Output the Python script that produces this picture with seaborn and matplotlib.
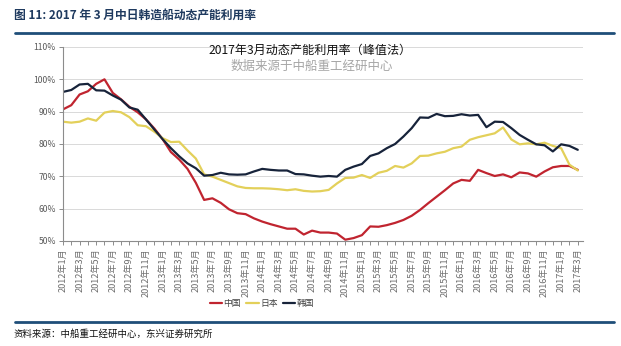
import matplotlib
matplotlib.use("Agg")
import matplotlib.pyplot as plt
import seaborn as sns
import pandas as pd
import numpy as np
from matplotlib.lines import Line2D

sns.set_theme(style="white")
plt.rcParams['font.family'] = ['Noto Sans CJK SC', 'DejaVu Sans']
plt.rcParams['axes.unicode_minus'] = False

# ---- data ----
months = [f"{y}年{m}月" for y in range(2012, 2018) for m in range(1, 13)][:63]

china = [90.7, 92.0, 95.3, 96.3, 98.6, 100.0, 95.8, 93.8, 91.5, 89.8,
         87.6, 84.8, 81.5, 77.5, 75.2, 72.3, 68.0, 62.7, 63.2, 61.8,
         59.8, 58.6, 58.3, 57.0, 56.0, 55.2, 54.5, 53.8, 53.8, 52.0,
         53.2, 52.6, 52.6, 52.3, 50.4, 50.9, 51.8, 54.5, 54.4, 54.9,
         55.6, 56.5, 57.8, 59.6, 61.7, 63.7, 65.7, 67.8, 68.9, 68.6,
         72.0, 71.0, 70.1, 70.6, 69.7, 71.2, 70.9, 69.9, 71.5, 72.8,
         73.2, 73.2, 72.0]
japan = [86.9, 86.6, 86.9, 87.9, 87.2, 89.7, 90.2, 89.8, 88.3, 85.8,
         85.5, 83.8, 81.8, 80.6, 80.7, 78.0, 75.5, 70.6, 69.9, 68.9,
         67.9, 66.9, 66.4, 66.3, 66.3, 66.2, 66.0, 65.7, 66.0, 65.5,
         65.3, 65.4, 65.8, 67.8, 69.5, 69.6, 70.4, 69.5, 71.1, 71.7,
         73.2, 72.7, 74.0, 76.3, 76.4, 77.1, 77.6, 78.7, 79.2, 81.3,
         82.1, 82.7, 83.3, 85.1, 81.4, 79.9, 80.2, 79.9, 80.4, 79.4,
         78.7, 73.6, 71.8]
korea = [96.1, 96.7, 98.4, 98.6, 96.6, 96.5, 95.0, 93.7, 91.3, 90.6,
         87.6, 84.5, 81.5, 78.7, 76.2, 74.0, 72.5, 70.2, 70.4, 71.1,
         70.6, 70.5, 70.6, 71.5, 72.3, 72.0, 71.8, 71.8, 70.7, 70.6,
         70.2, 69.9, 70.1, 69.9, 72.0, 73.0, 73.8, 76.3, 77.1, 78.7,
         80.0, 82.3, 84.9, 88.2, 88.1, 89.3, 88.6, 88.7, 89.2, 88.8,
         89.0, 85.2, 86.9, 86.8, 84.9, 82.8, 81.3, 79.9, 79.6, 77.7,
         79.9, 79.4, 78.2]

series_names = ["中国", "日本", "韩国"]
colors = ["#C0242F", "#E3D05A", "#17233A"]

df = pd.concat([
    pd.DataFrame({"idx": np.arange(len(months)), "month": months, "value": vals, "country": name})
    for name, vals in zip(series_names, [china, japan, korea])
])

# ---- figure ----
fig = plt.figure(figsize=(6.21, 3.46), dpi=100)
ax = fig.add_axes([0.1014, 0.3035, 0.837, 0.5607])

sns.lineplot(data=df, x="idx", y="value", hue="country", palette=colors,
             hue_order=series_names, linewidth=1.6, ax=ax, legend=False)

ax.set_xlim(0, 62.6)
ax.set_ylim(50, 110)
ax.set_yticks(np.arange(50, 111, 10))
ax.set_yticklabels([f"{v}%" for v in range(50, 111, 10)])
ax.set_xticks(np.arange(0, 63, 2))
ax.set_xticks(np.arange(0, 63, 1), minor=True)
ax.set_xticklabels(months[::2], rotation=90)
ax.set_xlabel("")
ax.set_ylabel("")

ax.grid(axis="y", color="#D9D9D9", linewidth=0.7)
ax.grid(axis="x", visible=False)
ax.set_axisbelow(True)
for s in ["top", "right"]:
    ax.spines[s].set_visible(False)
for s in ["left", "bottom"]:
    ax.spines[s].set_color("#8C8C8C")
    ax.spines[s].set_linewidth(0.8)

ax.tick_params(axis="x", which="both", direction="out", length=3, width=0.7,
               color="#8C8C8C", bottom=True, labelsize=6.6, labelcolor="#6E6E6E", pad=2)
ax.tick_params(axis="y", direction="out", length=3, width=0.7, color="#8C8C8C",
               left=True, labelsize=6.2, labelcolor="#595959", pad=2)

# inner titles
ax.text(0.475, 0.985, "2017年3月动态产能利用率（峰值法）", transform=ax.transAxes,
        ha="center", va="center", fontsize=8.7, color="#111111")
ax.text(0.478, 0.9, "数据来源于中船重工经研中心", transform=ax.transAxes,
        ha="center", va="center", fontsize=9, color="#A6A6A6")

# legend
handles = [Line2D([0], [0], color=c, linewidth=1.6) for c in colors]
fig.legend(handles, series_names, loc="center", bbox_to_anchor=(0.422, 0.124),
           ncol=3, frameon=False, fontsize=6.3, handlelength=1.4,
           handletextpad=0.2, columnspacing=0.6, labelcolor="#404040")

# header / footer
fig.text(0.022, 0.952, "图 11: 2017 年 3 月中日韩造船动态产能利用率", ha="left", va="center",
         fontsize=8.5, fontweight="bold", color="#1F3A5F")
fig.add_artist(Line2D([0.024, 0.988], [0.905, 0.905], transform=fig.transFigure,
                      color="#1F4E79", linewidth=2))
fig.add_artist(Line2D([0.024, 0.988], [0.069, 0.069], transform=fig.transFigure,
                      color="#1F4E79", linewidth=2))
fig.text(0.022, 0.036, "资料来源：中船重工经研中心，东兴证券研究所", ha="left", va="center",
         fontsize=6.8, style="italic", color="#111111")

fig.savefig("out.png", dpi=100)
